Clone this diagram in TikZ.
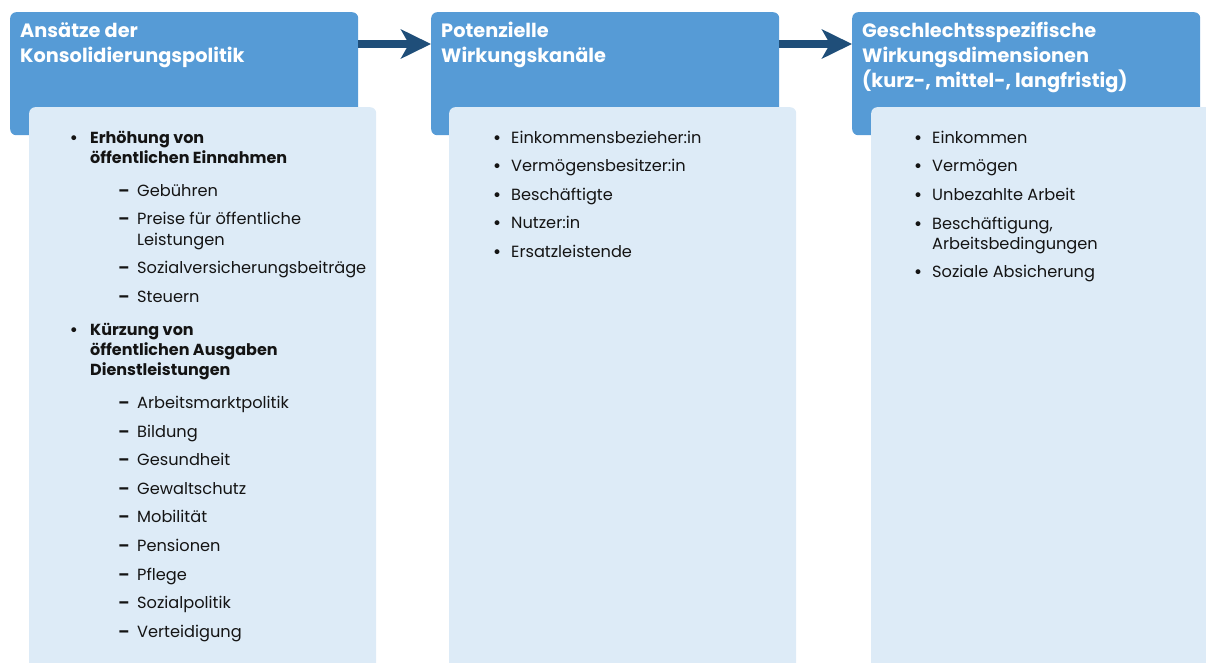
\documentclass[tikz,border=0pt]{standalone}
\usepackage{fontspec}
\setmainfont{Poppins}
\usetikzlibrary{arrows.meta}
\definecolor{hdr}{RGB}{86,155,214}
\definecolor{lite}{RGB}{221,235,247}
\definecolor{arrc}{RGB}{31,78,121}
\definecolor{txt}{RGB}{20,20,20}
\tikzset{
  hdrbox/.style={fill=hdr, rounded corners=6pt, minimum width=348pt, minimum height=123pt, anchor=north west, inner sep=0pt},
  litebox/.style={fill=lite, rounded corners=6pt, minimum width=347pt, minimum height=570pt, anchor=north west, inner sep=0pt},
  ttl/.style={anchor=base west, text=white, font=\fontsize{19.3}{23}\selectfont\bfseries, inner sep=0pt},
  itm/.style={anchor=base west, text=txt, font=\fontsize{16.2}{19}\selectfont, inner sep=0pt},
  bitm/.style={itm, font=\fontsize{16}{19}\selectfont\bfseries},
  mrk/.style={anchor=base, text=txt, font=\fontsize{16}{19}\selectfont\bfseries, inner sep=0pt},
  arr/.style={draw=arrc, line width=8.5pt, -{Stealth[width=29pt,length=30pt,inset=8pt]}}
}
\begin{document}
\begin{tikzpicture}[x=1pt,y=-1pt]
\useasboundingbox (0,0) rectangle (1206,662);
% header boxes
\node[hdrbox] (h1) at (10,12) {};
\node[hdrbox] (h2) at (431,12) {};
\node[hdrbox] (h3) at (852,12) {};
% light boxes
\node[litebox] (l1) at (29,107) {};
\node[litebox] (l2) at (449,107) {};
\node[litebox] (l3) at (871,107) {};
% arrows
\draw[arr] ([yshift=-32pt]h1.north east) -- ([yshift=-32pt]h2.north west);
\draw[arr] ([yshift=-32pt]h2.north east) -- ([yshift=-32pt]h3.north west);
% titles
\node[ttl] (t1a) at (20,37) {Ansätze der};
\node[ttl] (t1b) at (20,62) {Konsolidierungspolitik};
\node[ttl] (t2a) at (441,37) {Potenzielle};
\node[ttl] (t2b) at (441,62) {Wirkungskanäle};
\node[ttl] (t3a) at (862,37) {Geschlechtsspezifische};
\node[ttl] (t3b) at (862,62) {Wirkungsdimensionen};
\node[ttl] (t3c) at (862,87) {(kurz-, mittel-, langfristig)};
% box 1
\node[mrk] (b1) at (74,143) {•};
\node[bitm] (e1) at (90,143) {Erhöhung von};
\node[bitm] (e2) at (90,163) {öffentlichen Einnahmen};
\foreach \y/\t [count=\i] in {196/Gebühren,224/Preise für öffentliche,245/Leistungen,273/Sozialversicherungsbeiträge,302/Steuern}{
  \node[itm] (d\i) at (137,\y) {\t};
}
\foreach \y [count=\i] in {196,224,273,302}{
  \node[mrk] (dm\i) at (124,\y) {–};
}
\node[mrk] (b2) at (74,335) {•};
\node[bitm] (k1) at (90,335) {Kürzung von};
\node[bitm] (k2) at (90,355) {öffentlichen Ausgaben};
\node[bitm] (k3) at (90,375) {Dienstleistungen};
\foreach \y/\t [count=\i] in {408/Arbeitsmarktpolitik,437/Bildung,465/Gesundheit,494/Gewaltschutz,522/Mobilität,551/Pensionen,580/Pflege,608/Sozialpolitik,637/Verteidigung}{
  \node[itm] (s\i) at (137,\y) {\t};
  \node[mrk] (sm\i) at (124,\y) {–};
}
% box 2
\foreach \y/\t [count=\i] in {143/Einkommensbezieher:in,171/Vermögensbesitzer:in,200/Beschäftigte,228/Nutzer:in,257/Ersatzleistende}{
  \node[itm] (w\i) at (511,\y) {\t};
  \node[mrk] (wm\i) at (497,\y) {•};
}
% box 3
\foreach \y/\t [count=\i] in {143/Einkommen,171/Vermögen,200/Unbezahlte Arbeit,229/{Beschäftigung,},277/Soziale Absicherung}{
  \node[itm] (g\i) at (932,\y) {\t};
  \node[mrk] (gm\i) at (918,\y) {•};
}
\node[itm] (g4b) at (932,249) {Arbeitsbedingungen};
\end{tikzpicture}
\end{document}
